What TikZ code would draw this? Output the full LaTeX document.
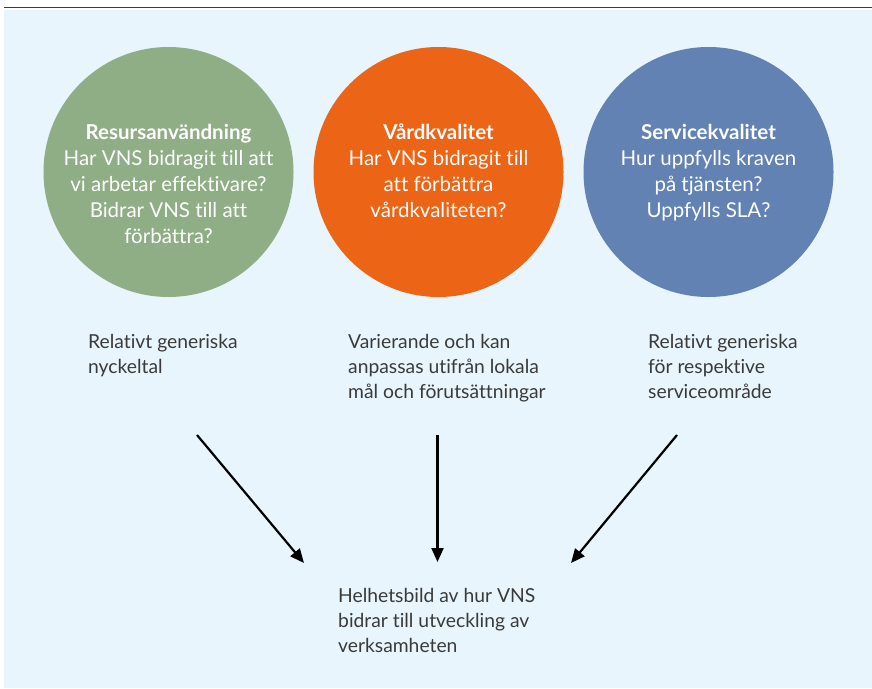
\documentclass[tikz,border=0pt]{standalone}
\usepackage{fontspec}
\setmainfont{Lato}[Ligatures={NoCommon}]
\usetikzlibrary{arrows.meta}
\definecolor{bgblue}{HTML}{E8F5FD}
\definecolor{linegray}{HTML}{3C3A38}
\definecolor{cgreen}{HTML}{8FAE85}
\definecolor{corange}{HTML}{EC6516}
\definecolor{cblue}{HTML}{6282B3}
\definecolor{txtgray}{HTML}{3A3A3A}
\begin{document}
\begin{tikzpicture}[x=1pt,y=-1pt,
  disc/.style={circle, minimum size=250pt, inner sep=0pt, draw=none},
  disctext/.style={anchor=north, align=center, inner sep=0pt, text=white,
    font=\fontsize{20.5}{26}\selectfont},
  plaintext/.style={anchor=north west, align=left, inner sep=0pt, text=txtgray,
    font=\fontsize{19.3}{25}\selectfont},
  arr/.style={line width=2.2pt, black, -{Triangle[length=14pt,width=12pt]}}]
\useasboundingbox (0,0) rectangle (872,688);
\fill[bgblue] (4,9.5) rectangle (872,688);
\draw[line width=1.6pt, linegray] (4,7.5) -- (872,7.5);

\node[disc, fill=cgreen] (c1) at (168.5,172) {};
\node[disc, fill=corange] (c2) at (438.5,172) {};
\node[disc, fill=cblue] (c3) at (708.5,172) {};

\node[disctext] (t1) at (168.5,124) {\textbf{Resursanvändning}\\Har VNS bidragit till att\\vi arbetar effektivare?\\Bidrar VNS till att\\förbättra?};
\node[disctext] (t2) at (438.5,124) {\textbf{Vårdkvalitet}\\Har VNS bidragit till\\att förbättra\\vårdkvaliteten?};
\node[disctext] (t3) at (708.5,124) {\textbf{Servicekvalitet}\\Hur uppfylls kraven\\på tjänsten?\\Uppfylls SLA?};

\node[plaintext] (p1) at (88,334) {Relativt generiska\\nyckeltal};
\node[plaintext] (p2) at (348,334) {Varierande och kan\\anpassas utifrån lokala\\mål och förutsättningar};
\node[plaintext] (p3) at (648,334) {Relativt generiska\\för respektive\\serviceområde};
\node[plaintext] (p4) at (338,588) {Helhetsbild av hur VNS\\bidrar till utveckling av\\verksamheten};

\coordinate (s1) at (197,435);
\coordinate (e1) at (304,563);
\coordinate (s2) at (437.5,435);
\coordinate (e2) at (437.5,562);
\coordinate (s3) at (677,435);
\coordinate (e3) at (571,563);
\draw[arr] (s1) -- (e1);
\draw[arr] (s2) -- (e2);
\draw[arr] (s3) -- (e3);
\end{tikzpicture}
\end{document}
